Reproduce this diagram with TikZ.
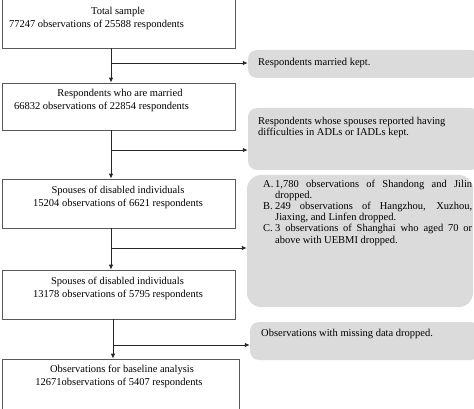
\documentclass[tikz,border=0pt]{standalone}
\usepackage{fontspec}
\setmainfont{Liberation Serif}
\usetikzlibrary{arrows.meta}
\begin{document}
\begin{tikzpicture}[x=1pt,y=-1pt,
  mainbox/.style={draw=black!65,line width=0.6pt,fill=white,rectangle,inner sep=0pt},
  graybox/.style={fill=black!14,draw=none,rounded corners=9pt,rectangle,inner sep=0pt},
  txt/.style={inner sep=0pt,font=\fontsize{10.5}{11.2}\selectfont},
  conn/.style={draw=black!85,line width=0.9pt},
  arr/.style={conn,-{Latex[length=5pt,width=4.5pt]}}]
\useasboundingbox (0,0) rectangle (474,409);
% main boxes
\node[mainbox,minimum width=233pt,minimum height=53pt] (b1) at (118.5,21.5) {};
\node[mainbox,minimum width=233pt,minimum height=47pt] (b2) at (118.5,106.5) {};
\node[mainbox,minimum width=233pt,minimum height=49pt] (b3) at (118.5,203.5) {};
\node[mainbox,minimum width=233pt,minimum height=49pt] (b4) at (118.5,294.5) {};
\node[mainbox,minimum width=237pt,minimum height=60pt] (b5) at (120.5,389) {};
% gray boxes
\node[graybox,minimum width=232pt,minimum height=28pt] (g1) at (364,64) {};
\node[graybox,minimum width=232pt,minimum height=62pt] (g2) at (364,139) {};
\node[graybox,rounded corners=14pt,minimum width=226pt,minimum height=132pt] (g3) at (360,241) {};
\node[graybox,minimum width=230pt,minimum height=38pt] (g4) at (365,341) {};
% texts
\node[txt] (t1a) at (118,12) {Total sample};
\node[txt] (t1b) at (96.5,24.5) {77247 observations of 25588 respondents};
\node[txt] (t2a) at (120,93.5) {Respondents who are married};
\node[txt] (t2b) at (101.5,106.5) {66832 observations of 22854 respondents};
\node[txt] (t3a) at (118,191) {Spouses of disabled individuals};
\node[txt] (t3b) at (118,203.5) {15204 observations of 6621 respondents};
\node[txt] (t4a) at (117.5,282) {Spouses of disabled individuals};
\node[txt] (t4b) at (118,294.5) {13178 observations of 5795 respondents};
\node[txt] (t5a) at (122,370) {Observations for baseline analysis};
\node[txt] (t5b) at (119,382.5) {12671observations of 5407 respondents};
\node[txt,anchor=west] (s1) at (258,63) {Respondents married kept.};
\node[txt,anchor=north west,align=left] (s2) at (258,117) {Respondents whose spouses reported having\\difficulties in ADLs or IADLs kept.};
\node[txt,anchor=north west,text width=209pt,align=justify] (s3) at (263,179.5) {%
\hyphenpenalty=10000 \exhyphenpenalty=10000 \tolerance=9999
\hangindent=12pt\hangafter=1 \makebox[12pt][l]{A.}1,780 observations of Shandong and Jilin dropped.\par
\hangindent=12pt\hangafter=1 \makebox[12pt][l]{B.}249 observations of Hangzhou, Xuzhou, Jiaxing, and Linfen dropped.\par
\hangindent=12pt\hangafter=1 \makebox[12pt][l]{C.}3 observations of Shanghai who aged 70 or above with UEBMI dropped.\par};
\node[txt,anchor=west] (s4) at (261,334) {Observations with missing data dropped.};
% connectors
\coordinate (j1) at (111,63);
\coordinate (j2) at (111,150);
\coordinate (j3) at (111,248);
\coordinate (j4) at (113,345);
\draw[arr] (b1.south -| j1) -- (b2.north -| j1);
\draw[arr] (b2.south -| j2) -- (b3.north -| j2);
\draw[arr] (b3.south -| j3) -- (b4.north -| j3);
\draw[arr] (b4.south -| j4) -- (b5.north -| j4);
\draw[arr] (j1) -- (g1.west |- j1);
\draw[arr] (j2) -- (g2.west |- j2);
\draw[arr] (j3) -- (g3.west |- j3);
\draw[arr] (j4) -- (g4.west |- j4);
\end{tikzpicture}
\end{document}
